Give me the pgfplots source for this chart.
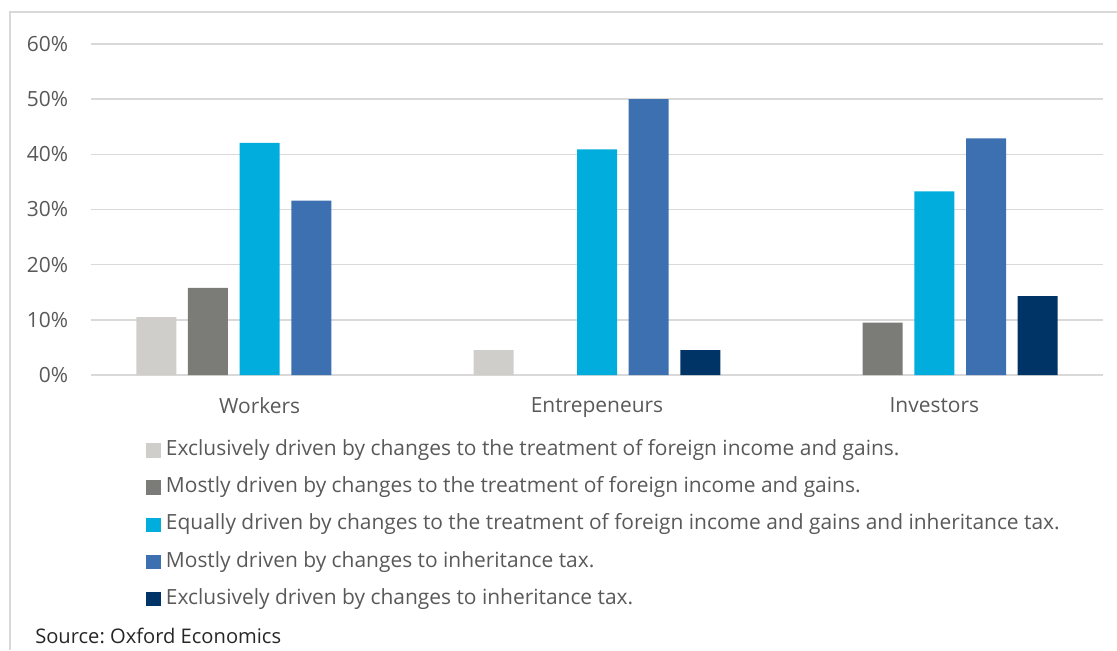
\documentclass[border=0pt]{standalone}
\usepackage{fontspec}
\setmainfont{Open Sans}
\usepackage{pgfplots}
\pgfplotsset{compat=1.18}
\definecolor{c1}{HTML}{D0CECA}
\definecolor{c2}{HTML}{7B7C77}
\definecolor{c3}{HTML}{00ADDC}
\definecolor{c4}{HTML}{3C70B0}
\definecolor{c5}{HTML}{003366}
\definecolor{gridc}{HTML}{D9D9D9}
\definecolor{txt}{HTML}{595959}
\frenchspacing
\begin{document}
\begin{tikzpicture}
\useasboundingbox (0,0) rectangle (837.75pt,-487.5pt);
\draw[gridc, line width=0.9pt] (7.5pt,-487.5pt) -- (7.5pt,-9pt) -- (837.75pt,-9pt);
\begin{axis}[
  at={(68.25pt,-281.25pt)}, anchor=south west,
  scale only axis, width=759pt, height=248.25pt,
  ybar, bar width=0.1186,
  xmin=-0.5, xmax=2.5, ymin=0, ymax=60,
  xtick={0,1,2}, xticklabels={Workers,Entrepeneurs,Investors},
  ytick={0,10,...,60},
  /pgf/number format/assume math mode=true,
  yticklabel={\pgfmathprintnumber{\tick}\%},
  axis line style={draw=none},
  major tick length=0pt,
  ymajorgrids, grid style={gridc, line width=1.1pt},
  tick label style={font=\fontsize{15.7}{18}\selectfont, text=txt, inner sep=0pt},
  yticklabel style={anchor=east, xshift=-17pt},
  xticklabel style={anchor=north, yshift=-17pt},
  legend cell align=left,
  legend image code/.code={\fill[#1] (0pt,-5.4pt) rectangle (10.8pt,5.4pt);},
  legend style={draw=none, fill=none, at={(0.0543,-0.198)}, anchor=north west,
    font=\fontsize{15.7}{18}\selectfont, text=txt, row sep=13.4pt, inner sep=0pt,
    nodes={inner xsep=4pt, inner ysep=0pt, text height=11pt, text depth=3.5pt}},
]
\addplot[fill=c1, draw=none, bar shift=-0.3064] coordinates {(0,10.5) (1,4.5)};
\addplot[fill=c2, draw=none, bar shift=-0.1532] coordinates {(0,15.8) (2,9.5)};
\addplot[fill=c3, draw=none, bar shift=0] coordinates {(0,42.1) (1,40.9) (2,33.3)};
\addplot[fill=c4, draw=none, bar shift=0.1532] coordinates {(0,31.6) (1,50.0) (2,42.9)};
\addplot[fill=c5, draw=none, bar shift=0.3064] coordinates {(1,4.5) (2,14.3)};
\legend{Exclusively driven by changes to the treatment of foreign income and gains.,
Mostly driven by changes to the treatment of foreign income and gains.,
Equally driven by changes to the treatment of foreign income and gains and inheritance tax.,
Mostly driven by changes to inheritance tax.,
Exclusively driven by changes to inheritance tax.}
\end{axis}
\node[anchor=base west, inner sep=0pt, font=\fontsize{15.1}{18}\selectfont, text=black!85] at (26.25pt,-482.25pt) {Source: Oxford Economics};
\end{tikzpicture}
\end{document}
